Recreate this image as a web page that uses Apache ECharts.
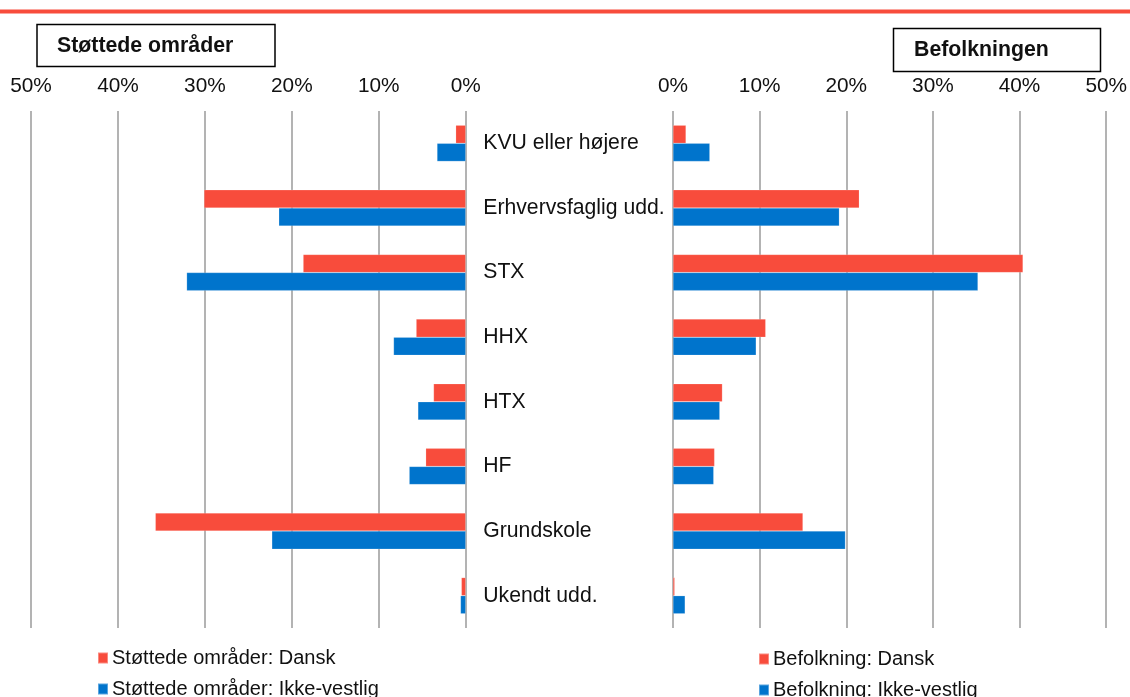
<!DOCTYPE html>
<html>
<head>
<meta charset="utf-8">
<script src="https://cdn.jsdelivr.net/npm/echarts@6/dist/echarts.min.js"></script>
<style>
  html, body { margin: 0; padding: 0; background: #fff; }
  #chart { width: 1130px; height: 697px; }
</style>
</head>
<body>
<div id="chart"></div>
<script>
const categories = ['KVU eller højere', 'Erhvervsfaglig udd.', 'STX', 'HHX', 'HTX', 'HF', 'Grundskole', 'Ukendt udd.'];

// Støttede områder (left panel)
const stottedeDansk = [1.15, 30.1, 18.7, 5.7, 3.7, 4.6, 35.7, 0.5];
const stottedeIkkeVestlig = [3.3, 21.5, 32.1, 8.3, 5.5, 6.5, 22.3, 0.6];

// Befolkningen (right panel)
const befolkningDansk = [1.5, 21.5, 40.4, 10.7, 5.7, 4.8, 15.0, 0.2];
const befolkningIkkeVestlig = [4.25, 19.2, 35.2, 9.6, 5.4, 4.7, 19.9, 1.4];

const ticks = [0, 10, 20, 30, 40, 50];

const RED = '#F84C3C';
const BLUE = '#0074CC';
const FONT = '"Liberation Sans", Arial, sans-serif';

const chart = echarts.init(document.getElementById('chart'));

const valueAxis = (gridIndex, inverse) => ({
  type: 'value',
  gridIndex,
  min: ticks[0],
  max: ticks[ticks.length - 1],
  interval: 10,
  inverse,
  position: 'top',
  axisLine: { show: false },
  axisTick: { show: false },
  axisLabel: { formatter: '{value}%', color: '#111', fontSize: 20.8, fontFamily: FONT, margin: 14 },
  splitLine: { show: true, lineStyle: { color: '#9a9a9a', width: 1.5 } }
});

const barSeries = (name, data, color, idx) => ({
  name,
  type: 'bar',
  xAxisIndex: idx,
  yAxisIndex: idx,
  data,
  barGap: '0%',
  barCategoryGap: '44%',
  itemStyle: { color, borderColor: 'rgba(255,255,255,0.35)', borderWidth: 0.5 },
  emphasis: { disabled: true }
});

// one legend per entry so they stack like the original
const legendItem = (name, left, top) => ({
  data: [name], left, top, padding: 0,
  icon: 'rect', itemWidth: 10, itemHeight: 11, itemGap: 4,
  textStyle: { color: '#111', fontSize: 20, fontFamily: FONT, padding: [0, 0, 0, -1] },
  selectedMode: false
});

chart.setOption({
  animation: false,
  grid: [
    { left: 31, right: 1130 - 465.7, top: 111, bottom: 697 - 628 },
    { left: 673, right: 1130 - 1107.3, top: 111, bottom: 697 - 628 }
  ],
  xAxis: [valueAxis(0, true), valueAxis(1, false)],
  yAxis: [
    {
      type: 'category', gridIndex: 0, data: categories, inverse: true,
      axisLine: { show: false }, axisTick: { show: false }, axisLabel: { show: false }
    },
    {
      type: 'category', gridIndex: 1, data: categories, inverse: true,
      axisLine: { show: false }, axisTick: { show: false },
      axisLabel: { align: 'left', margin: 189.7, color: '#111', fontSize: 21.2, fontFamily: FONT }
    }
  ],
  legend: [
    legendItem('Støttede områder: Dansk', 97, 648),
    legendItem('Støttede områder: Ikke-vestlig', 97, 679),
    legendItem('Befolkning: Dansk', 758, 649),
    legendItem('Befolkning: Ikke-vestlig', 758, 680)
  ],
  graphic: [
    { type: 'rect', shape: { x: 0, y: 9.5, width: 1130, height: 4 }, style: { fill: RED } },
    {
      type: 'rect', shape: { x: 37, y: 24.5, width: 238, height: 42 },
      style: { fill: '#fff', stroke: '#000', lineWidth: 1.5 }
    },
    {
      type: 'text', left: 57, top: 36,
      style: { text: 'Støttede områder', font: 'bold 21.3px ' + FONT, fill: '#111' }
    },
    {
      type: 'rect', shape: { x: 893.5, y: 28.5, width: 207, height: 43 },
      style: { fill: '#fff', stroke: '#000', lineWidth: 1.5 }
    },
    {
      type: 'text', left: 914, top: 40,
      style: { text: 'Befolkningen', font: 'bold 21.3px ' + FONT, fill: '#111' }
    }
  ],
  series: [
    barSeries('Støttede områder: Dansk', stottedeDansk, RED, 0),
    barSeries('Støttede områder: Ikke-vestlig', stottedeIkkeVestlig, BLUE, 0),
    barSeries('Befolkning: Dansk', befolkningDansk, RED, 1),
    barSeries('Befolkning: Ikke-vestlig', befolkningIkkeVestlig, BLUE, 1)
  ]
});
</script>
</body>
</html>
